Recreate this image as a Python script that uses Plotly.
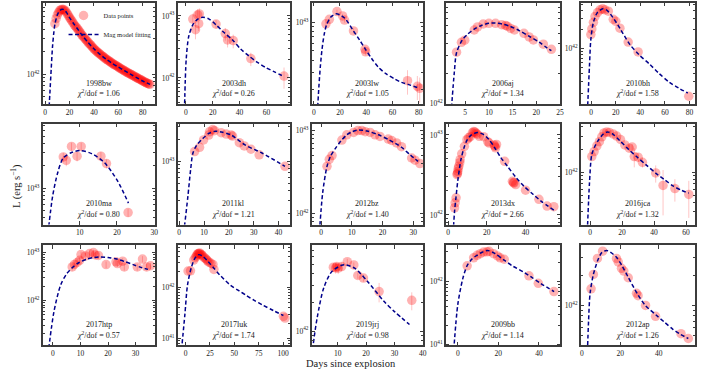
import plotly.graph_objects as go

W, H = 705, 376
SERIF = "Liberation Serif"

# Luminosities are in units of 1e42 erg/s, times in days since explosion.
t_1998bw = [8, 9, 10, 11, 12, 13, 14, 15, 16, 17, 18, 19, 20, 21, 22, 23, 24, 25, 26, 27, 28, 29, 30, 31, 32,
            33, 34, 35, 36, 37, 38, 39, 40, 41, 42, 43, 44, 45, 46, 47, 48, 49, 50, 51, 52, 53, 54, 55, 56, 57,
            58, 59, 60, 61, 62, 63, 64, 65, 66, 67, 68, 69, 70, 71, 72, 73, 74, 75, 76, 77, 78, 79, 80, 81, 82,
            83, 84, 85, 86]
L_1998bw = [4.8, 5.6, 6.3, 6.8, 7.2, 7.4, 7.5, 7.45, 7.3, 7.0, 6.6, 6.2, 5.8, 5.5, 5.2, 4.9, 4.6, 4.4, 4.2, 4.0,
            3.8, 3.6, 3.4, 3.25, 3.1, 2.97, 2.85, 2.72, 2.6, 2.5, 2.4, 2.3, 2.2, 2.12, 2.05, 1.98, 1.92, 1.86,
            1.8, 1.75, 1.7, 1.65, 1.6, 1.56, 1.52, 1.48, 1.44, 1.4, 1.37, 1.34, 1.31, 1.28, 1.25, 1.22, 1.19,
            1.16, 1.14, 1.11, 1.09, 1.06, 1.04, 1.02, 1.0, 0.98, 0.96, 0.94, 0.92, 0.9, 0.88, 0.865, 0.85, 0.83,
            0.81, 0.795, 0.78, 0.765, 0.75, 0.74, 0.73]
mt_1998bw = [3.0, 4, 5, 6, 7, 8, 10, 12, 14, 16, 18, 20, 23, 26, 30, 35, 40, 45, 50, 55, 60, 65, 70, 75, 80, 86]
mL_1998bw = [0.3, 0.6, 1.2, 2.3, 3.5, 4.7, 6.3, 7.2, 7.5, 7.3, 6.6, 5.8, 4.9, 4.2, 3.4, 2.7, 2.2, 1.85, 1.6,
             1.4, 1.25, 1.12, 1.0, 0.9, 0.81, 0.73]

t_2003dh = [5.2, 7.2, 8.9, 10.1, 9.6, 22.5, 29.4, 31.1, 35.3, 48.4, 73.1]
L_2003dh = [8.9, 6.0, 10.4, 10.8, 7.5, 7.4, 5.2, 4.1, 4.0, 2.05, 1.07]
e_2003dh = [2.0, 1.8, 2.5, 2.5, 1.8, 1.2, 1.2, 1.0, 1.0, 0.5, 0.4]
mt_2003dh = [-1.0, 0.3, 2.2, 5.2, 8.9, 12.6, 17, 22.5, 28, 34.8, 41, 47.2, 53, 59.5, 66, 73.1]
mL_2003dh = [0.3, 2.0, 4.7, 7.2, 8.9, 9.5, 9.0, 7.2, 5.5, 4.1, 2.9, 2.24, 1.8, 1.47, 1.25, 1.05]

t_2003lw = [9.3, 11.9, 17.7, 22.0, 23.5, 30.3, 39.1, 39.6, 71.5, 79.0, 80.8]
L_2003lw = [9.6, 10.7, 12.9, 11.6, 10.5, 8.1, 5.2, 4.9, 2.45, 2.14, 2.04]
e_2003lw = [0.5, 0.5, 0.6, 0.6, 0.6, 0.5, 0.4, 0.4, 0.7, 0.6, 0.6]
mt_2003lw = [3.0, 4.0, 5.0, 6.3, 8.0, 9.8, 13, 16.9, 20, 23.7, 30.3, 35, 39.1, 44, 49.2, 55, 61.9, 67, 72, 80.8]
mL_2003lw = [1.3, 2.2, 3.4, 5.2, 7.5, 9.4, 11.3, 12.2, 11.9, 11.0, 8.1, 6.5, 5.3, 4.2, 3.4, 2.9, 2.54, 2.35,
             2.24, 2.04]

t_2006aj = [3.16, 4.2, 4.9, 6.9, 7.6, 8.8, 10.0, 11.4, 12.7, 13.5, 13.9, 14.6, 15.4, 17.4, 18.5, 19.4, 21.5, 23.2]
L_2006aj = [3.24, 4.07, 4.27, 5.4, 5.8, 6.2, 6.3, 6.3, 6.1, 6.0, 5.9, 5.6, 5.4, 5.0, 4.6, 4.3, 3.9, 3.46]
mt_2006aj = [2.1, 2.7, 3.16, 4.4, 5.5, 6.9, 8.4, 10.0, 11.3, 12.8, 14.4, 16.5, 18.6, 20.7, 22.2, 23.2]
mL_2006aj = [0.9, 2.05, 3.2, 4.3, 4.9, 5.5, 6.0, 6.3, 6.35, 6.2, 5.9, 5.3, 4.65, 4.05, 3.6, 3.35]

t_2010bh = [-0.2, 0.6, 1.9, 3.2, 5.2, 7.3, 9.4, 11.3, 14.0, 18.0, 20.1, 23.4, 30.1, 38.2, 79.3]
L_2010bh = [1.67, 2.05, 2.6, 3.2, 3.7, 4.1, 4.25, 4.1, 3.9, 2.9, 2.7, 2.1, 1.27, 0.89, 0.178]
mt_2010bh = [-3.0, -1.3, -0.2, 1.9, 5.1, 9.5, 13, 18, 24, 31.4, 39, 47.5, 55, 63.6, 71, 78.5]
mL_2010bh = [0.1, 0.54, 1.4, 2.6, 3.7, 4.25, 4.0, 3.05, 2.0, 1.17, 0.8, 0.57, 0.41, 0.295, 0.24, 0.2]

t_2010ma = [5.6, 6.4, 7.8, 9.3, 10.4, 15.7, 17.2, 23.0]
L_2010ma = [26.4, 23.8, 36.6, 27, 36.6, 27, 21.5, 4.7]
e_2010ma = [3.5, 4.0, 4.5, 4.0, 4.5, 4.0, 3.0, 0.6]
mt_2010ma = [1.5, 2.75, 4.1, 5.6, 8.0, 10.2, 13.2, 16.7, 20.2, 23.1]
mL_2010ma = [2.5, 7.9, 16.2, 25.6, 30.5, 32.2, 29.3, 22, 12.5, 6.3]

t_2011kl = [6.2, 8.2, 9.8, 11.9, 12.2, 13.5, 14.2, 16.9, 18.9, 20.9, 21.5, 24.2, 26.2, 28.9, 32.2, 42.6]
L_2011kl = [13.6, 15.5, 19.5, 22.7, 25.1, 27, 26, 24.4, 23.4, 22.7, 22, 17.9, 16.2, 14.6, 12.3, 8.6]
mt_2011kl = [1.5, 2.2, 3.5, 4.6, 5.5, 7, 9.5, 12, 14.5, 17, 21, 26.5, 33.5, 42.6]
mL_2011kl = [0.9, 1.4, 3.4, 7.8, 12.9, 16.5, 20.4, 24.0, 25.5, 25.0, 22.7, 16.7, 12.9, 8.6]

t_2012bz = [1.95, 2.7, 3.6, 6.8, 8.4, 10.6, 12, 13.3, 14.4, 16, 17.6, 19.2, 21.9, 23, 24.6, 26.2, 29.5, 30.6, 32.2]
L_2012bz = [3.7, 4.5, 5.0, 7.7, 8.9, 9.5, 10.0, 10.0, 9.7, 9.5, 8.9, 8.5, 7.9, 7.6, 7.1, 6.4, 4.67, 4.4, 4.0]
mt_2012bz = [-0.5, 0.55, 1.95, 3.2, 4.7, 6.5, 8.4, 10.2, 12.2, 15, 18.7, 22, 26.2, 29, 31.6]
mL_2012bz = [0.6, 1.78, 3.7, 5.0, 6.1, 7.5, 8.9, 9.7, 10.2, 9.9, 8.9, 7.8, 6.3, 5.1, 4.25]

t_2013dx = [3.3, 3.6, 4.1, 4.6, 4.8, 5.0, 5.2, 5.5, 6.0, 6.2, 7.0, 8.4, 9.7, 10.5, 11.5, 12.5, 13.2, 13.8, 14.4,
            15.0, 16.1, 18.3, 20.5, 21.2, 23.8, 24.1, 24.5, 25.0, 29.2, 33.2, 33.7, 34.0, 34.9, 40.0, 46.9, 51.1, 54.6]
L_2013dx = [1.23, 1.42, 1.64, 3.2, 3.3, 3.5, 3.8, 4.07, 4.5, 4.9, 5.8, 7.2, 8.7, 9.2, 9.5, 10.6, 11.0, 10.9, 10.5,
            10.2, 9.6, 9.5, 8.2, 7.9, 7.5, 7.2, 6.9, 7.6, 4.67, 2.63, 2.55, 2.5, 2.4, 2.04, 1.57, 1.29, 1.27]
mt_2013dx = [2.6, 3.3, 4.1, 5.0, 6.6, 8.2, 9.9, 12, 15.2, 18, 21, 24.1, 27, 30.6, 35, 39.2, 44, 48, 54.6]
mL_2013dx = [0.6, 1.1, 1.7, 2.7, 4.9, 6.9, 8.7, 10.0, 10.7, 10.2, 8.8, 6.9, 5.3, 4.07, 2.95, 2.28, 1.8, 1.49, 1.15]

t_2016jca = [1.05, 2.5, 4.2, 5.8, 7.3, 8.7, 10.4, 12, 14.5, 16.6, 19, 21.7, 24.5, 26.3, 27.6, 30, 32.7, 41, 45.6, 53, 61.7]
L_2016jca = [1.61, 1.87, 2.22, 2.53, 2.93, 3.3, 3.4, 3.35, 3.18, 3.0, 2.7, 2.29, 2.07, 2.15, 1.61, 1.58, 1.35,
             0.98, 0.67, 0.61, 0.51]
e_2016jca = [0.1, 0.1, 0.1, 0.12, 0.12, 0.15, 0.15, 0.15, 0.15, 0.15, 0.15, 0.2, 0.2, 0.2, 0.45, 0.2, 0.2,
             0.25, 0.4, 0.2, 0.26]
mt_2016jca = [-1.6, -0.4, 1.0, 3.0, 5.2, 8, 10.8, 14, 18.6, 24, 29, 35, 41.4, 46.5, 51.8, 57, 61.7]
mL_2016jca = [0.2, 0.73, 1.7, 2.2, 2.66, 3.15, 3.4, 3.2, 2.6, 2.0, 1.61, 1.25, 0.96, 0.8, 0.66, 0.58, 0.53]

t_2017htp = [7.0, 7.8, 8.8, 9.7, 10.2, 11.8, 13.3, 14.7, 15.4, 16.5, 19.3, 22.9, 23.4, 25.3, 25.9, 30.6, 32.5, 34.0, 35.4]
L_2017htp = [5.0, 5.65, 6.2, 6.9, 9.1, 8.5, 9.5, 10.0, 8.9, 8.7, 5.6, 6.4, 5.9, 6.6, 5.0, 5.0, 7.3, 5.0, 5.3]
e_2017htp = [0.8, 0.9, 1.0, 1.1, 1.4, 1.3, 1.4, 1.5, 1.3, 1.3, 0.9, 1.0, 0.9, 1.0, 0.8, 0.8, 1.1, 0.8, 0.8]
mt_2017htp = [-1.5, 0.4, 2.8, 5, 7, 9.5, 12.4, 15, 17.2, 20, 23.2, 26, 29.1, 32, 34.5]
mL_2017htp = [0.1, 0.59, 2.1, 3.6, 4.8, 6.2, 7.3, 7.9, 8.1, 7.9, 7.3, 6.5, 5.6, 4.9, 4.45]

t_2017luk = [2.6, 5.1, 8.4, 10.0, 11.2, 12.0, 12.8, 13.5, 14.5, 15.0, 16.3, 17.0, 18.6, 20.0, 21.4, 22.5, 24.0,
             26.0, 28.1, 29.1, 100.3, 102.0]
L_2017luk = [2.07, 2.1, 3.4, 3.8, 4.1, 4.4, 4.55, 4.6, 4.7, 4.5, 4.35, 4.2, 3.9, 3.7, 3.5, 3.3, 3.1, 2.95, 2.8,
             2.23, 0.27, 0.25]
mt_2017luk = [-3.5, -0.7, 2.0, 6.1, 10, 13.5, 18, 23, 28, 35, 46, 55, 62, 70, 79, 90, 100.3]
mL_2017luk = [0.08, 0.29, 1.1, 2.5, 3.8, 4.35, 4.0, 3.2, 2.5, 1.75, 1.1, 0.85, 0.7, 0.56, 0.45, 0.35, 0.28]

t_2019jrj = [8.5, 9.3, 9.7, 10.2, 11.4, 13.4, 15.7, 17.1, 19.1, 24.6, 36.1]
L_2019jrj = [4.68, 4.6, 4.76, 4.57, 4.76, 5.35, 4.95, 3.83, 3.6, 2.6, 2.1]
e_2019jrj = [0.5, 0.6, 0.5, 0.6, 0.5, 0.4, 0.3, 0.3, 0.3, 0.6, 0.45]
mt_2019jrj = [1.0, 1.4, 2.8, 5.1, 7.9, 11.4, 13, 16, 20.6, 26.3, 30, 35.3]
mL_2019jrj = [0.55, 0.72, 1.38, 2.83, 4.2, 4.9, 4.95, 4.57, 3.3, 2.05, 1.6, 1.17]

t_2009bb = [4.6, 7.8, 9.5, 11.1, 12.7, 14.4, 15.5, 17.6, 19.6, 20.9, 22.9, 35.1, 39.7, 47.4]
L_2009bb = [1.79, 2.4, 2.64, 2.8, 2.97, 3.0, 3.05, 2.8, 2.57, 2.4, 2.28, 1.24, 0.94, 0.695]
mt_2009bb = [-2, 0, 2.5, 4.6, 7, 9.5, 12, 14.7, 18, 22.9, 27, 32.7, 36, 40.8, 47.5]
mL_2009bb = [0.08, 0.43, 1.13, 1.8, 2.3, 2.64, 2.95, 3.16, 2.85, 2.2, 1.78, 1.41, 1.2, 0.94, 0.695]

t_2012ap = [4.8, 6.0, 8.1, 10.8, 18.0, 18.9, 20.6, 21.8, 24.1, 28.4, 29.2, 33.1, 38.3, 51.5, 55.3]
L_2012ap = [1.46, 2.03, 2.92, 3.45, 2.92, 2.7, 2.33, 2.19, 1.88, 1.32, 1.25, 1.0, 0.78, 0.525, 0.47]
mt_2012ap = [2.8, 3.5, 4.3, 6.0, 8.6, 10.5, 12.9, 15, 18, 21, 24.1, 29.2, 33, 38.7, 43, 47.3, 51, 55.3]
mL_2012ap = [0.3, 0.7, 1.32, 2.03, 2.9, 3.35, 3.5, 3.35, 3.0, 2.45, 1.9, 1.27, 1.0, 0.8, 0.68, 0.58, 0.52, 0.47]

names = ["1998bw", "2003dh", "2003lw", "2006aj", "2010bh",
         "2010ma", "2011kl", "2012bz", "2013dx", "2016jca",
         "2017htp", "2017luk", "2019jrj", "2009bb", "2012ap"]
chi2 = ["1.06", "0.26", "1.05", "1.34", "1.58",
        "0.80", "1.21", "1.40", "2.66", "1.32",
        "0.57", "1.74", "0.98", "1.14", "1.26"]

data = {
    "1998bw": (t_1998bw, L_1998bw, None, mt_1998bw, mL_1998bw),
    "2003dh": (t_2003dh, L_2003dh, e_2003dh, mt_2003dh, mL_2003dh),
    "2003lw": (t_2003lw, L_2003lw, e_2003lw, mt_2003lw, mL_2003lw),
    "2006aj": (t_2006aj, L_2006aj, None, mt_2006aj, mL_2006aj),
    "2010bh": (t_2010bh, L_2010bh, None, mt_2010bh, mL_2010bh),
    "2010ma": (t_2010ma, L_2010ma, e_2010ma, mt_2010ma, mL_2010ma),
    "2011kl": (t_2011kl, L_2011kl, None, mt_2011kl, mL_2011kl),
    "2012bz": (t_2012bz, L_2012bz, None, mt_2012bz, mL_2012bz),
    "2013dx": (t_2013dx, L_2013dx, None, mt_2013dx, mL_2013dx),
    "2016jca": (t_2016jca, L_2016jca, e_2016jca, mt_2016jca, mL_2016jca),
    "2017htp": (t_2017htp, L_2017htp, e_2017htp, mt_2017htp, mL_2017htp),
    "2017luk": (t_2017luk, L_2017luk, None, mt_2017luk, mL_2017luk),
    "2019jrj": (t_2019jrj, L_2019jrj, e_2019jrj, mt_2019jrj, mL_2019jrj),
    "2009bb": (t_2009bb, L_2009bb, None, mt_2009bb, mL_2009bb),
    "2012ap": (t_2012ap, L_2012ap, None, mt_2012ap, mL_2012ap),
}

# axis view per panel: x range, log10 y range, x tick step
view = {
    "1998bw": ([-2, 90], [41.6, 42.96], 20),
    "2003dh": ([-6, 77.5], [41.58, 43.21], 20),
    "2003lw": ([-1.5, 83.3], [42.147, 43.2], 20),
    "2006aj": ([0.9, 25.02], [41.993, 43.003], 5),
    "2010bh": ([-8.3, 84.4], [41.13, 42.72], 20),
    "2010ma": ([0.07, 30.2], [42.51, 43.87], 10),
    "2011kl": ([-0.6, 44.6], [42.147, 43.51], 10),
    "2012bz": ([-3, 33.2], [41.865, 43.084], 10),
    "2013dx": ([-1.2, 57.8], [41.88, 43.14], 20),
    "2016jca": ([-5.8, 65.6], [41.31, 42.64], 20),
    "2017htp": ([-3.7, 37], [41.064, 43.15], 10),
    "2017luk": ([-8, 107], [40.865, 42.82], 25),
    "2019jrj": ([0.9, 40.05], [41.85, 42.9], 10),
    "2009bb": ([-5.9, 50.4], [40.984, 42.58], 20),
    "2012ap": ([-0.5, 58.8], [41.605, 42.595], 20),
}

COLS = [(42, 155), (178, 291), (313, 425), (448, 563), (584, 699)]
ROWS = [(3, 105), (125, 227), (248, 349)]

decades = [1e40, 1e41, 1e42, 1e43, 1e44]
dec_text = ["10<sup>40</sup>", "10<sup>41</sup>", "10<sup>42</sup>", "10<sup>43</sup>", "10<sup>44</sup>"]
minor_vals = [k * d for d in decades[:-1] for k in range(2, 10)]

FRAME = "#3c3c3c"
TXT = "#1a1a1a"
fig = go.Figure()
layout = {}
annotations = []


def label(text, x, y, size, **kw):
    return dict(text=text, x=x, y=y, xref="paper", yref="paper", showarrow=False,
                xanchor="center", yanchor="middle", font=dict(family=SERIF, size=size, color=TXT), **kw)


for i, sn in enumerate(names):
    r, c = divmod(i, 5)
    ax = "" if i == 0 else str(i + 1)
    x0, x1 = COLS[c]
    y0, y1 = ROWS[r]
    t, L, e, mt, mL = data[sn]
    xr, yr, dt = view[sn]

    err = None
    if e is not None:
        err = dict(type="data", array=[v * 1e42 for v in e], color="rgba(255,90,90,0.35)",
                   thickness=1, width=0)
    fig.add_trace(go.Scatter(
        x=t, y=[v * 1e42 for v in L], mode="markers", error_y=err,
        marker=dict(size=9.5, color="rgba(255,0,0,0.3)", line=dict(width=0)),
        name="Data points", showlegend=(i == 0),
        xaxis="x" + ax, yaxis="y" + ax))
    fig.add_trace(go.Scatter(
        x=mt, y=[v * 1e42 for v in mL], mode="lines",
        line=dict(color="#00008b", width=1.5, dash="4px,2.5px", shape="spline", smoothing=0.8),
        name="Mag model fitting", showlegend=(i == 0),
        xaxis="x" + ax, yaxis="y" + ax))

    common = dict(showline=True, linecolor=FRAME, linewidth=1.6, mirror="ticks", ticks="inside",
                  ticklen=3.5, tickwidth=0.8, tickcolor=FRAME, showgrid=False, zeroline=False,
                  tickfont=dict(family=SERIF, size=7.5, color=TXT))
    layout["xaxis" + ax] = dict(common, domain=[x0 / W, x1 / W], anchor="y" + ax, range=xr,
                                tick0=0, dtick=dt)
    layout["yaxis" + ax] = dict(common, domain=[1 - y1 / H, 1 - y0 / H], anchor="x" + ax,
                                type="log", range=yr, tickmode="array", tickvals=decades,
                                ticktext=dec_text,
                                minor=dict(tickmode="array", tickvals=minor_vals, ticks="inside",
                                           ticklen=2, tickwidth=0.6, tickcolor=FRAME, showgrid=False))

    cx = (x0 + x1) / 2 / W
    annotations.append(label(sn, cx, 1 - (y1 - 21) / H, 8))
    annotations.append(label("<i>χ</i><sup>2</sup>/dof = " + chi2[i], cx, 1 - (y1 - 10.5) / H, 8))

annotations.append(label("Days since explosion", 353 / W, 1 - 367 / H, 10.5))
annotations.append(label("L (erg s<sup>−1</sup>)", 15 / W, 1 - 188 / H, 10.5, textangle=-90))

fig.update_layout(
    width=W, height=H, margin=dict(l=0, r=0, t=0, b=0),
    paper_bgcolor="white", plot_bgcolor="white",
    annotations=annotations,
    legend=dict(x=63 / W, y=1 - 1 / H, xanchor="left", yanchor="top", bgcolor="rgba(0,0,0,0)",
                font=dict(family=SERIF, size=6.5, color=TXT), itemwidth=30, traceorder="normal"),
    **layout,
)

# the page body has a default 8px margin; remove it so the figure sits at the window origin
fig.write_html("out.html", config={"displayModeBar": False},
               post_script="document.body.style.margin='0';")
